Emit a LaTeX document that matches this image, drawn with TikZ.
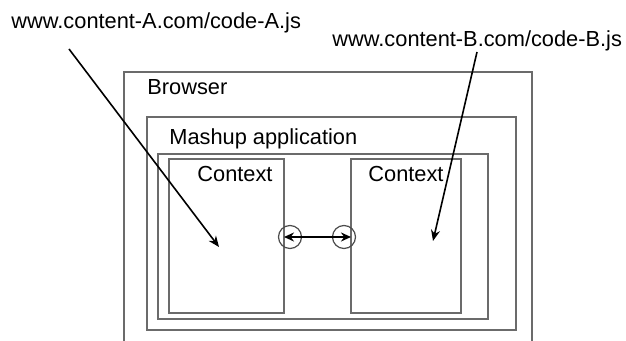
\documentclass[tikz,border=0pt]{standalone}
\usepackage{fontspec}
\setmainfont{Liberation Sans}
\usetikzlibrary{arrows.meta,fit}
\definecolor{framegray}{gray}{0.42}
\definecolor{portgray}{gray}{0.3}
\begin{document}
\begin{tikzpicture}[x=0.5pt,y=-0.5pt,
  frame/.style={draw=framegray, line width=0.7pt, inner sep=0pt, outer sep=0pt},
  caption/.style={inner sep=0pt, anchor=base west, font=\fontsize{10.9}{13}\selectfont},
  tip/.style={Stealth[length=5pt,width=4.5pt]},
  pointer/.style={draw=black, line width=0.8pt, -{Stealth[length=5.5pt,width=4.5pt]}},
  port/.style={circle, draw=portgray, line width=0.6pt, minimum size=11.5pt, inner sep=0pt}]
\useasboundingbox (0,0) rectangle (626,341);

% browser window, open at the bottom
\draw[framegray, line width=0.7pt] (124,341) |- (532,72) -- (532,341);

% nested frames
\coordinate (m1) at (147,117); \coordinate (m2) at (516,330);
\node[frame, fit=(m1)(m2)] (mashup) {};
\coordinate (i1) at (158,154); \coordinate (i2) at (488,319);
\node[frame, fit=(i1)(i2)] (inner) {};
\coordinate (l1) at (169,159); \coordinate (l2) at (284,313);
\node[frame, fit=(l1)(l2)] (ctxL) {};
\coordinate (r1) at (351,159); \coordinate (r2) at (461,313);
\node[frame, fit=(r1)(r2)] (ctxR) {};

% labels
\node[caption] (urlA) at (11,29) {www.content-A.com/code-A.js};
\node[caption] (urlB) at (332,47) {www.content-B.com/code-B.js};
\node[caption] (browserlbl) at (147,95) {Browser};
\node[caption] (mashuplbl) at (169,145) {Mashup application};
\node[caption] (ctxLlbl) at (197,182) {Context};
\node[caption] (ctxRlbl) at (368,182) {Context};

% scripts loaded into each context
\coordinate (a0) at (69,49);  \coordinate (a1) at (219,247);
\coordinate (b0) at (477,52); \coordinate (b1) at (433,241);
\draw[pointer] (a0) -- (a1);
\draw[pointer] (b0) -- (b1);

% communication between the contexts
\node[port] (p1) at (290,237) {};
\node[port] (p2) at (344,237) {};
\draw[black, line width=0.8pt, {Stealth[length=5pt,width=4.5pt]}-{Stealth[length=5pt,width=4.5pt]}]
  (ctxL.east |- p1) -- (ctxR.west |- p2);
\end{tikzpicture}
\end{document}
